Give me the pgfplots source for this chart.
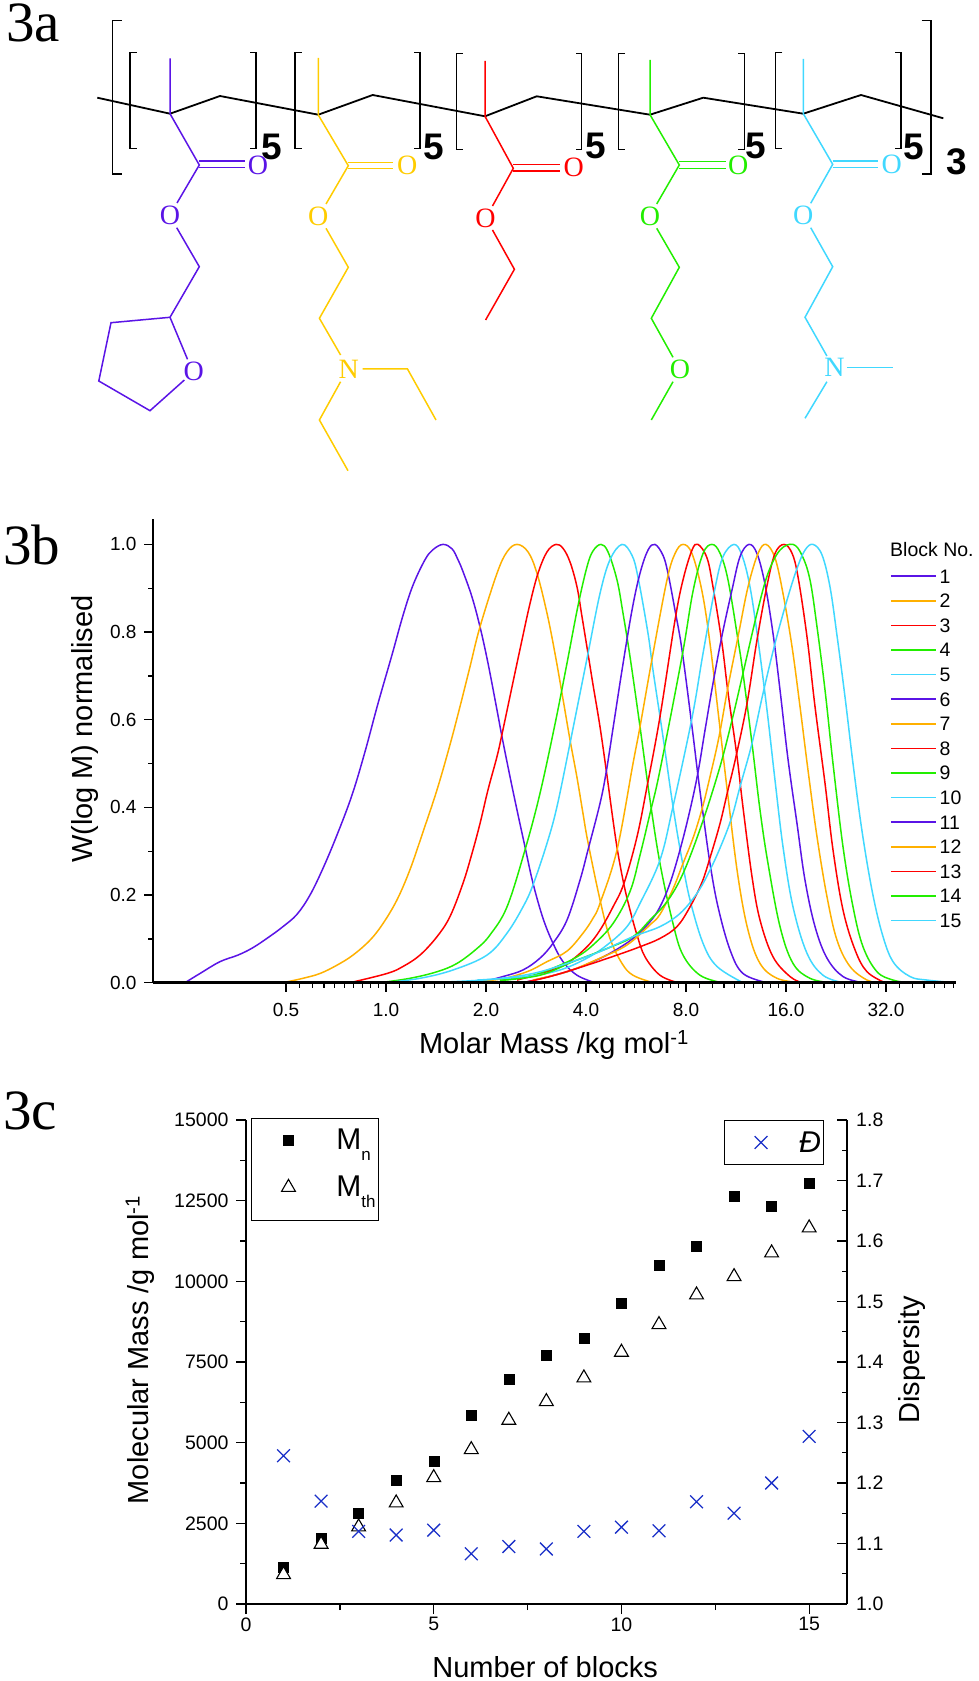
\documentclass[border=0pt]{standalone}
\usepackage{fontspec}
\usepackage{pgfplots}
\pgfplotsset{compat=1.18}
\setmainfont{Liberation Sans}
\newfontfamily\timesf{Liberation Serif}
\definecolor{cpurple}{HTML}{5A14E6}
\definecolor{corange}{HTML}{FFB000}
\definecolor{cyellow}{HTML}{FFCC00}
\definecolor{cred}{HTML}{FF0000}
\definecolor{cgreen}{HTML}{22EE00}
\definecolor{ccyan}{HTML}{40D8FF}
\definecolor{cblue}{HTML}{1A30C8}
\newcommand{\fs}[1]{\fontsize{#1}{#1}\selectfont}
\newcommand{\bond}[2]{\addplot[#1,forget plot] coordinates {#2};}
\newcommand{\atom}[3]{\node[text=#1,inner sep=0pt,font=\timesf\fs{28}] at (axis cs:#2) {#3};}
\newcommand{\five}[2]{\node[inner sep=0pt,font=\bfseries\fs{37}] at (axis cs:#1) {#2};}
\begin{document}
\begin{tikzpicture}
\path[use as bounding box] (0pt,0pt) rectangle (979pt,1681pt);

% panel a, in image pixels
\begin{axis}[at={(0pt,0pt)},scale only axis,width=979pt,height=1681pt,
  xmin=0,xmax=979,ymin=0,ymax=1681,y dir=reverse,hide axis,clip=false,no markers]
\bond{black,line width=1.8pt}{(97.3,97.7) (170,113.7) (220,96) (318.3,114.7) (372.7,95) (485,116.3) (536.7,96.3) (650,114.7) (703.3,97.7) (803.3,113.7) (861,95) (943.3,118.3)}
\bond{black,line width=1.6pt}{(121.7,20.7) (112.3,20.7) (112.3,174) (121.7,174)}
\bond{black,line width=1.6pt}{(921.7,20.7) (931,20.7) (931,174) (921.7,174)}
\bond{black,line width=1.5pt}{(136.7,52.7) (130,52.7) (130,148.3) (136.7,148.3)}
\bond{black,line width=1.5pt}{(250,52.7) (256,52.7) (256,148.3) (250,148.3)}
\bond{black,line width=1.5pt}{(301.7,52.7) (295,52.7) (295,148.3) (301.7,148.3)}
\bond{black,line width=1.5pt}{(414.3,52.7) (420,52.7) (420,148.3) (414.3,148.3)}
\bond{black,line width=1.5pt}{(462.7,53.3) (456.7,53.3) (456.7,149.3) (462.7,149.3)}
\bond{black,line width=1.5pt}{(576,53.3) (581.7,53.3) (581.7,149.3) (576,149.3)}
\bond{black,line width=1.5pt}{(625,53.3) (618.3,53.3) (618.3,149.3) (625,149.3)}
\bond{black,line width=1.5pt}{(738.3,53.3) (744.3,53.3) (744.3,149.3) (738.3,149.3)}
\bond{black,line width=1.5pt}{(782.3,52.7) (775.7,52.7) (775.7,148.3) (782.3,148.3)}
\bond{black,line width=1.5pt}{(895,52.7) (901,52.7) (901,148.3) (895,148.3)}
% purple unit
\bond{cpurple,line width=1.5pt}{(170,58.3) (170,113.7) (199.3,165) (177,203)}
\bond{cpurple,line width=1.5pt}{(199.3,161) (245,161)}
\bond{cpurple,line width=1.5pt}{(199.3,167.7) (245,167.7)}
\bond{cpurple,line width=1.5pt}{(176.7,227.7) (199.3,266.7) (170,317.3) (111,322.7) (98.8,381) (150,410.7) (184.4,380)}
\bond{cpurple,line width=1.5pt}{(170,317.3) (187.5,359.3)}
\atom{cpurple}{258,165}{O}
\atom{cpurple}{170,215.7}{O}
\atom{cpurple}{193.8,371}{O}
% yellow unit
\bond{cyellow,line width=1.5pt}{(318.3,58) (318.3,115) (348.3,165.7) (326,204)}
\bond{cyellow,line width=1.5pt}{(348.3,162.3) (393.3,162.3)}
\bond{cyellow,line width=1.5pt}{(348.3,168.7) (393.3,168.7)}
\bond{cyellow,line width=1.5pt}{(326,228.3) (348.3,267.3) (319.4,318.3) (340.6,355)}
\bond{cyellow,line width=1.5pt}{(362.5,369) (407.5,369) (436,420)}
\bond{cyellow,line width=1.5pt}{(340.6,381.7) (319.4,420) (348,470.7)}
\atom{cyellow}{407.3,165.7}{O}
\atom{cyellow}{318.3,216.7}{O}
\atom{cyellow}{348.8,369}{N}
% red unit
\bond{cred,line width=1.5pt}{(485,61) (485,116.3) (513.3,168.3) (492.5,206)}
\bond{cred,line width=1.5pt}{(513.3,164.3) (560,164.3)}
\bond{cred,line width=1.5pt}{(513.3,171) (560,171)}
\bond{cred,line width=1.5pt}{(492.5,230) (514.4,269.3) (485.6,320)}
\atom{cred}{573.8,167.3}{O}
\atom{cred}{485.6,218.3}{O}
% green unit
\bond{cgreen,line width=1.5pt}{(650,60) (650,114.7) (679.3,165) (656.7,204)}
\bond{cgreen,line width=1.5pt}{(679.3,161.7) (726,161.7)}
\bond{cgreen,line width=1.5pt}{(679.3,168.3) (726,168.3)}
\bond{cgreen,line width=1.5pt}{(656.7,228.3) (679.3,267.3) (651.3,318.3) (673,357.3)}
\bond{cgreen,line width=1.5pt}{(673,381.7) (651.3,420)}
\atom{cgreen}{738.3,165}{O}
\atom{cgreen}{650,216.7}{O}
\atom{cgreen}{680,369}{O}
% cyan unit
\bond{ccyan,line width=1.5pt}{(803.3,59) (803.3,113.7) (832.7,164.3) (810.7,203.3)}
\bond{ccyan,line width=1.5pt}{(832.7,161) (878.3,161)}
\bond{ccyan,line width=1.5pt}{(832.7,167.7) (878.3,167.7)}
\bond{ccyan,line width=1.5pt}{(810.7,227.7) (832.7,266.7) (805,317.3) (826.9,356)}
\bond{ccyan,line width=1.5pt}{(846.9,367.7) (892.5,367.7)}
\bond{ccyan,line width=1.5pt}{(826.9,381.7) (805,418.3)}
\atom{ccyan}{891.7,164.3}{O}
\atom{ccyan}{803.3,215.7}{O}
\atom{ccyan}{834.4,367.7}{N}
% repeat counts
\five{271.3,147}{5}
\five{434,147}{5}
\five{596,146}{5}
\five{756,146}{5}
\five{913.3,147}{5}
\five{956.7,162}{3}
% panel letters and the legend head of panel b
\node[anchor=base west,inner sep=0pt,font=\timesf\fs{57}] at (axis cs:6,42) {3a};
\node[anchor=base west,inner sep=0pt,font=\timesf\fs{57}] at (axis cs:3,565) {3b};
\node[anchor=base west,inner sep=0pt,font=\timesf\fs{57}] at (axis cs:3,1129) {3c};
\node[anchor=base west,inner sep=0pt,font=\fs{19.5}] at (axis cs:890,556) {Block No.};
\end{axis}

% panel b, x is log2 of the molar mass in kg/mol
\begin{axis}[at={(153pt,698.3pt)},scale only axis,width=803pt,height=463.7pt,
  xmin=-2.33,xmax=5.70,ymin=0,ymax=1.058,
  axis x line=bottom,axis y line=left,axis line style={-,line width=1.5pt},
  x axis line style={line width=2.6pt},axis on top,clip=false,
  tick align=outside,major tick length=9pt,minor tick length=5pt,
  every tick/.style={black,line width=1.3pt},
  xtick={-1,0,1,2,3,4,5},xticklabels={0.5,1.0,2.0,4.0,8.0,16.0,32.0},
  minor xtick={-0.8625,-0.737,-0.6215,-0.5146,-0.415,-0.3219,-0.2345,-0.152,-0.074,
    0.1375,0.263,0.3785,0.4854,0.585,0.6781,0.7655,0.848,0.926,
    1.1375,1.263,1.3785,1.4854,1.585,1.6781,1.7655,1.848,1.926,
    2.1375,2.263,2.3785,2.4854,2.585,2.6781,2.7655,2.848,2.926,
    3.1375,3.263,3.3785,3.4854,3.585,3.6781,3.7655,3.848,3.926,
    4.1375,4.263,4.3785,4.4854,4.585,4.6781,4.7655,4.848,4.926,
    5.1375,5.263,5.3785,5.4854,5.585,5.6781},
  ytick={0,0.2,0.4,0.6,0.8,1},minor ytick={0.1,0.3,0.5,0.7,0.9},
  ticklabel style={font=\fs{19}},
  x tick label style={yshift=-8pt},y tick label style={xshift=-4pt},
  /pgf/number format/assume math mode=true,
  y tick label style={/pgf/number format/fixed,/pgf/number format/fixed zerofill,/pgf/number format/precision=1},
  ylabel={W(log M) normalised},xlabel={Molar Mass /kg mol\textsuperscript{-1}},
  every axis y label/.style={at={(axis description cs:-0.0753,0.547)},rotate=90,anchor=base,font=\fs{29}},
  every axis x label/.style={at={(axis description cs:0.4994,-0.153)},anchor=base,font=\fs{29}},
  curve/.style={line width=1.5pt,smooth,tension=0.6,no markers},
  legend image code/.code={\draw[#1,sharp plot] (0pt,0pt) -- (45pt,0pt);},
  legend cell align=left,
  legend style={at={(axis cs:5.04,0.944)},anchor=north west,draw=none,fill=none,inner sep=0pt,
    font=\fs{19.5},row sep=10.6pt,
    nodes={inner xsep=3pt,inner ysep=0pt,text height=14pt,text depth=0pt}},
]
\addplot[cpurple,curve] coordinates {(-2.01,0) (-1.86,.021) (-1.66,.048) (-1.48,.063) (-1.33,.080) (-1.16,.106) (-1.03,.128) (-.89,.156) (-.76,.200) (-.63,.261) (-.49,.337) (-.34,.428) (-.21,.527) (-.08,.637) (.06,.748) (.17,.838) (.27,.907) (.39,.965) (.47,.988) (.57,1) (.66,.99) (.72,.965) (.77,.938) (.86,.880) (.94,.812) (1.02,.729) (1.11,.622) (1.16,.561) (1.24,.470) (1.31,.394) (1.39,.310) (1.47,.227) (1.57,.147) (1.67,.090) (1.77,.048) (1.91,.017) (2.09,0)};
\addplot[corange,curve] coordinates {(-1.03,0) (-.83,.010) (-.66,.021) (-.49,.040) (-.33,.063) (-.16,.097) (-.03,.135) (.11,.189) (.24,.258) (.37,.344) (.51,.440) (.64,.543) (.74,.630) (.84,.721) (.94,.812) (1.11,.934) (1.21,.983) (1.31,1) (1.42,.983) (1.51,.934) (1.61,.843) (1.69,.751) (1.77,.647) (1.84,.554) (1.91,.468) (1.97,.386) (2.02,.320) (2.14,.189) (2.24,.101) (2.36,.044) (2.47,.017) (2.67,0)};
\addplot[cred,curve] coordinates {(-.36,0) (.01,.021) (.17,.037) (.34,.063) (.51,.105) (.64,.151) (.77,.227) (.86,.295) (.94,.363) (1.02,.440) (1.11,.516) (1.16,.567) (1.26,.675) (1.36,.782) (1.44,.865) (1.52,.934) (1.61,.983) (1.70,1) (1.77,.991) (1.84,.960) (1.91,.903) (1.96,.835) (2.02,.751) (2.07,.680) (2.14,.584) (2.21,.472) (2.27,.371) (2.32,.295) (2.38,.223) (2.44,.166) (2.51,.109) (2.59,.059) (2.74,.017) (2.92,0)};
\addplot[cgreen,curve] coordinates {(-.06,0) (.24,.010) (.51,.025) (.71,.044) (.91,.078) (1.04,.109) (1.21,.173) (1.39,.303) (1.54,.432) (1.69,.590) (1.81,.729) (1.92,.860) (2.01,.949) (2.07,.985) (2.15,1) (2.22,.983) (2.31,.919) (2.37,.843) (2.44,.744) (2.54,.584) (2.64,.417) (2.74,.272) (2.87,.135) (2.97,.063) (3.14,.017) (3.36,0)};
\addplot[ccyan,curve] coordinates {(0,0) (.34,.010) (.67,.029) (1.01,.063) (1.21,.113) (1.37,.173) (1.47,.223) (1.61,.318) (1.71,.402) (1.84,.546) (1.94,.660) (2.02,.751) (2.14,.888) (2.24,.965) (2.36,1) (2.46,.975) (2.52,.925) (2.62,.797) (2.67,.713) (2.77,.561) (2.87,.402) (2.96,.280) (3.04,.189) (3.17,.090) (3.31,.037) (3.57,0)};
\addplot[cpurple,curve] coordinates {(.97,.002) (1.17,.014) (1.37,.029) (1.54,.056) (1.67,.090) (1.81,.143) (1.94,.234) (2.02,.303) (2.14,.409) (2.20,.478) (2.27,.580) (2.36,.713) (2.46,.850) (2.54,.934) (2.62,.987) (2.69,1) (2.77,.975) (2.82,.934) (2.89,.850) (2.96,.759) (3.06,.584) (3.12,.472) (3.17,.386) (3.24,.272) (3.32,.173) (3.44,.075) (3.57,.021) (3.81,0)};
\addplot[corange,curve] coordinates {(.81,.002) (1.14,.008) (1.41,.025) (1.61,.048) (1.81,.072) (1.97,.113) (2.07,.147) (2.14,.181) (2.31,.303) (2.47,.500) (2.54,.584) (2.67,.751) (2.81,.919) (2.89,.979) (2.97,1) (3.06,.979) (3.16,.893) (3.24,.774) (3.33,.600) (3.42,.424) (3.52,.242) (3.62,.120) (3.74,.044) (3.91,.010) (4.14,0)};
\addplot[cred,curve] coordinates {(1.31,.006) (1.61,.025) (1.81,.044) (2.01,.082) (2.14,.120) (2.27,.173) (2.38,.227) (2.51,.333) (2.61,.447) (2.74,.607) (2.89,.827) (2.97,.919) (3.06,.987) (3.12,1) (3.21,.969) (3.27,.903) (3.36,.774) (3.42,.662) (3.51,.516) (3.57,.400) (3.66,.242) (3.74,.143) (3.87,.059) (4.04,.014) (4.16,0)};
\addplot[cgreen,curve] coordinates {(1.14,.005) (1.47,.017) (1.71,.037) (1.91,.059) (2.07,.086) (2.27,.135) (2.44,.208) (2.54,.291) (2.64,.386) (2.74,.485) (2.96,.744) (3.07,.893) (3.17,.979) (3.26,1) (3.34,.980) (3.42,.919) (3.52,.782) (3.57,.706) (3.66,.546) (3.74,.394) (3.82,.272) (3.94,.128) (4.07,.044) (4.24,.010) (4.44,0)};
\addplot[ccyan,curve] coordinates {(.91,.006) (1.41,.014) (1.74,.029) (2.01,.056) (2.21,.086) (2.41,.128) (2.54,.181) (2.74,.280) (2.87,.402) (3.06,.604) (3.17,.751) (3.29,.900) (3.37,.972) (3.48,1) (3.56,.975) (3.64,.903) (3.72,.782) (3.81,.622) (3.89,.462) (3.97,.310) (4.07,.173) (4.21,.067) (4.37,.017) (4.57,0)};
\addplot[cpurple,curve] coordinates {(1.41,.002) (1.81,.025) (2.07,.048) (2.27,.071) (2.47,.101) (2.64,.139) (2.74,.173) (2.84,.227) (2.94,.303) (3.04,.394) (3.12,.480) (3.19,.576) (3.27,.683) (3.36,.792) (3.46,.896) (3.54,.972) (3.63,1) (3.71,.979) (3.79,.909) (3.87,.797) (3.94,.668) (4.02,.510) (4.11,.363) (4.19,.234) (4.29,.128) (4.41,.056) (4.57,.014) (4.77,0)};
\addplot[corange,curve] coordinates {(1.47,.006) (1.81,.025) (2.14,.056) (2.41,.086) (2.64,.132) (2.74,.156) (2.87,.214) (2.97,.272) (3.07,.330) (3.16,.396) (3.24,.470) (3.33,.561) (3.42,.675) (3.52,.789) (3.62,.903) (3.72,.979) (3.80,1) (3.89,.969) (3.97,.888) (4.06,.767) (4.14,.630) (4.22,.485) (4.31,.333) (4.41,.196) (4.51,.097) (4.64,.037) (4.81,.006) (4.94,0)};
\addplot[cred,curve] coordinates {(1.41,.002) (1.64,.014) (1.97,.037) (2.31,.063) (2.54,.082) (2.74,.101) (2.91,.128) (3.04,.173) (3.16,.229) (3.24,.285) (3.34,.363) (3.42,.440) (3.50,.516) (3.61,.637) (3.71,.782) (3.81,.906) (3.89,.979) (3.98,1) (4.06,.980) (4.12,.926) (4.21,.789) (4.29,.630) (4.39,.455) (4.47,.303) (4.57,.166) (4.69,.075) (4.81,.025) (4.99,0)};
\addplot[cgreen,curve] coordinates {(1.14,.005) (1.54,.017) (1.87,.048) (2.21,.078) (2.47,.105) (2.64,.143) (2.81,.185) (2.97,.249) (3.16,.363) (3.34,.493) (3.46,.599) (3.57,.706) (3.71,.843) (3.82,.934) (3.94,.987) (4.07,1) (4.16,.975) (4.24,.919) (4.31,.812) (4.39,.668) (4.47,.500) (4.57,.310) (4.67,.173) (4.77,.082) (4.91,.025) (5.07,.006) (5.22,0)};
\addplot[ccyan,curve] coordinates {(.64,.002) (1.07,.008) (1.47,.021) (1.81,.044) (2.14,.071) (2.47,.105) (2.74,.128) (2.94,.158) (3.11,.204) (3.24,.257) (3.36,.318) (3.46,.379) (3.54,.447) (3.66,.546) (3.77,.660) (3.89,.774) (4.01,.873) (4.11,.945) (4.19,.987) (4.27,1) (4.36,.976) (4.44,.903) (4.51,.792) (4.59,.652) (4.67,.500) (4.76,.346) (4.86,.211) (4.96,.113) (5.07,.048) (5.24,.014) (5.41,.006) (5.69,0)};
\legend{1,2,3,4,5,6,7,8,9,10,11,12,13,14,15}
\end{axis}

% panel c, left scale
\begin{axis}[at={(246pt,77pt)},scale only axis,width=600.7pt,height=484pt,
  xmin=0,xmax=16,ymin=0,ymax=15000,
  axis x line=bottom,axis y line=left,axis line style={-,line width=1.6pt},
  clip=false,tick align=outside,major tick length=10pt,minor tick length=6pt,
  every tick/.style={black,line width=1.3pt},
  xtick={0,5,10,15},minor xtick={2.5,7.5,12.5},
  ytick={0,2500,5000,7500,10000,12500,15000},minor ytick={1250,3750,6250,8750,11250,13750},
  ticklabel style={font=\fs{19.5}},y tick label style={xshift=-4pt},scaled y ticks=false,
  /pgf/number format/assume math mode=true,/pgf/number format/1000 sep=,
  ylabel={Molecular Mass /g mol\textsuperscript{-1}},xlabel={Number of blocks},
  every axis y label/.style={at={(axis description cs:-0.162,0.525)},rotate=90,anchor=base,font=\fs{29}},
  every axis x label/.style={at={(axis description cs:0.498,-0.151)},anchor=base,font=\fs{29}},
  legend image code/.code={\path[draw=none] (-37pt,0pt) -- (45pt,0pt);\draw[#1] plot coordinates {(0pt,6pt)};},
  legend cell align=left,
  legend style={at={(axis cs:0.133,15050)},anchor=north west,draw=black,line width=1pt,fill=white,
    inner xsep=0pt,inner ysep=11.5pt,font=\fs{30},row sep=15pt,
    nodes={inner xsep=3pt,inner ysep=0pt,text height=19pt,text depth=13pt}},
]
\addplot[only marks,mark=square*,mark size=5pt,mark options={black,fill=black}] coordinates {(1,1136) (2,2035) (3,2810) (4,3843) (5,4411) (6,5857) (7,6963) (8,7696) (9,8233) (10,9308) (11,10506) (12,11074) (13,12624) (14,12314) (15,13047)};
\addplot[only marks,mark=triangle*,mark size=8pt,mark options={draw=black,fill=white,line width=1.1pt}] coordinates {(1,911) (2,1851) (3,2388) (4,3132) (5,3917) (6,4785) (7,5694) (8,6273) (9,7006) (10,7802) (11,8659) (12,9578) (13,10146) (14,10880) (15,11655)};
\legend{M\raisebox{-11pt}{\fs{17}n},M\raisebox{-11pt}{\fs{17}th}\hspace{5pt}}
\end{axis}

% panel c, right scale
\begin{axis}[at={(246pt,77pt)},scale only axis,width=600.7pt,height=484pt,
  xmin=0,xmax=16,ymin=1,ymax=1.8,
  axis x line=none,axis y line=right,axis line style={-,line width=1.6pt},
  clip=false,tick align=inside,major tick length=10pt,minor tick length=5pt,
  every tick/.style={black,line width=1.3pt},
  ytick={1,1.1,1.2,1.3,1.4,1.5,1.6,1.7,1.8},minor ytick={1.05,1.15,1.25,1.35,1.45,1.55,1.65,1.75},
  ticklabel style={font=\fs{19.5}},y tick label style={xshift=6pt},
  /pgf/number format/assume math mode=true,/pgf/number format/fixed,/pgf/number format/fixed zerofill,/pgf/number format/precision=1,
  ylabel={Dispersity},
  every axis y label/.style={at={(axis description cs:1.122,0.504)},rotate=90,anchor=base,font=\fs{29}},
  legend image code/.code={\path[draw=none] (-37pt,0pt) -- (35pt,0pt);\draw[#1] plot coordinates {(0pt,0pt)};},
  legend style={at={(axis cs:12.72,1.8)},anchor=north west,draw=black,line width=1pt,fill=white,
    inner xsep=0pt,inner ysep=8.5pt,font=\fs{30},
    nodes={inner xsep=3pt,inner ysep=0pt,text height=24pt,text depth=3pt}},
]
\addplot[only marks,mark=x,mark size=9pt,mark options={cblue,line width=1.3pt}] coordinates {(1,1.245) (2,1.170) (3,1.120) (4,1.114) (5,1.122) (6,1.083) (7,1.095) (8,1.091) (9,1.120) (10,1.127) (11,1.121) (12,1.169) (13,1.150) (14,1.200) (15,1.277)};
\legend{\itshape Đ}
\end{axis}
\end{tikzpicture}
\end{document}
